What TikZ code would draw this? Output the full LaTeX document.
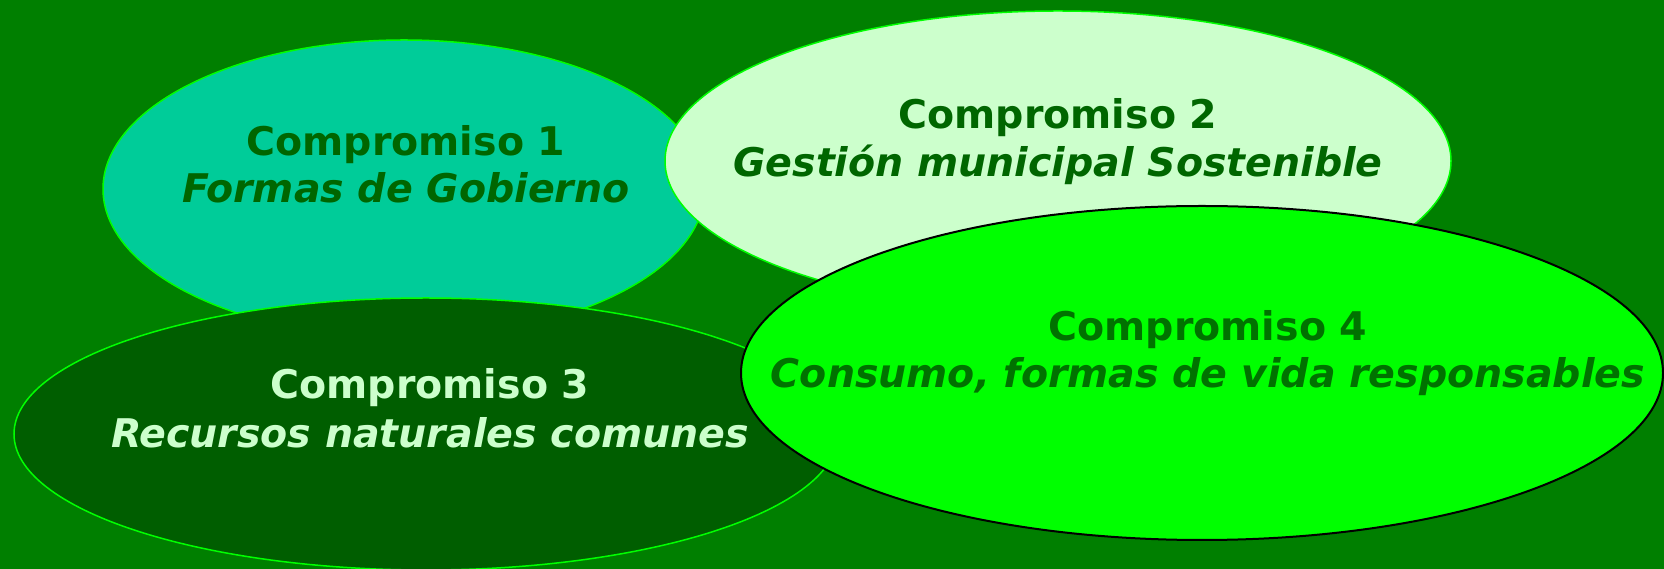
\documentclass[tikz,border=0pt]{standalone}
\usepackage{fontspec}
\setmainfont{DejaVu Sans}
\usetikzlibrary{shapes.geometric}
\definecolor{bg}{HTML}{007F00}
\definecolor{fillA}{HTML}{00CC99}
\definecolor{fillB}{HTML}{CCFFCC}
\definecolor{fillC}{HTML}{005E00}
\definecolor{fillD}{HTML}{00FF00}
\definecolor{edgeG}{HTML}{00FF00}
\definecolor{txtdark}{HTML}{006600}
\definecolor{txtlight}{HTML}{CCFFCC}
\definecolor{txtD}{HTML}{007200}
\tikzset{
  blob/.style={ellipse, inner sep=0pt, line width=1.5pt, draw=edgeG},
  head/.style={anchor=base, inner sep=0pt, font=\fontsize{39.5}{47}\selectfont\bfseries},
  sub/.style={anchor=base, inner sep=0pt, font=\fontsize{39.5}{47}\selectfont\bfseries\itshape},
}
\begin{document}
\begin{tikzpicture}[x=1pt,y=1pt]
\fill[bg] (0,0) rectangle (1664,569);
\useasboundingbox (0,0) rectangle (1664,569);
\node[blob, fill=fillA, minimum width=602pt, minimum height=298pt] (e1) at (404,380) {};
\node[blob, fill=fillB, minimum width=786pt, minimum height=300pt] (e2) at (1058,408) {};
\node[blob, fill=fillC, minimum width=824pt, minimum height=272pt] (e3) at (426,135) {};
\node[blob, fill=fillD, draw=black, line width=2pt, minimum width=922pt, minimum height=334pt] (e4) at (1202,196) {};
\node[head, text=txtdark] (t1a) at (406,413) {Compromiso 1};
\node[sub, text=txtdark] (t1b) at (406,366) {Formas de Gobierno};
\node[head, text=txtdark] (t2a) at (1058,440) {Compromiso 2};
\node[sub, text=txtdark] (t2b) at (1058,392) {Gestión municipal Sostenible};
\node[head, text=txtlight] (t3a) at (430,170) {Compromiso 3};
\node[sub, text=txtlight] (t3b) at (430,121) {Recursos naturales comunes};
\node[head, text=txtD] (t4a) at (1208,228) {Compromiso 4};
\node[sub, text=txtD] (t4b) at (1208,181) {Consumo, formas de vida responsables};
\end{tikzpicture}
\end{document}
